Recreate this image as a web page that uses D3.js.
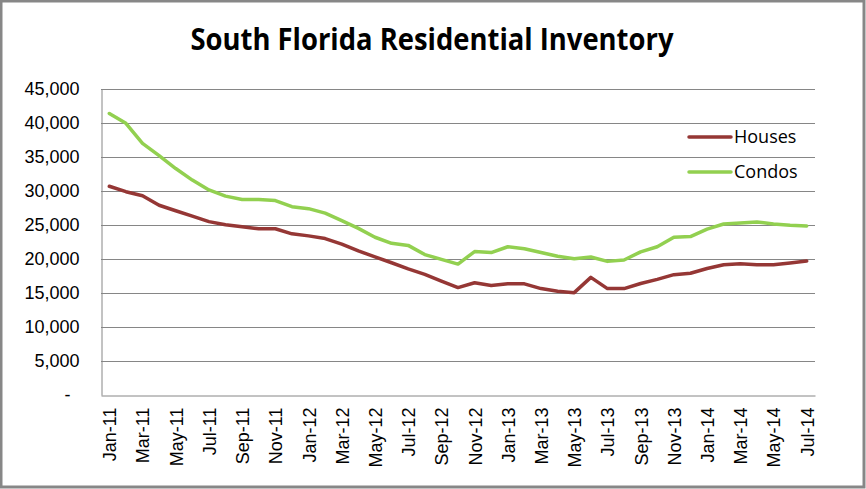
<!DOCTYPE html>
<html>
<head>
<meta charset="utf-8">
<script src="https://cdn.jsdelivr.net/npm/d3@7"></script>
<style>
  body { margin: 0; background: #fff; }
  svg { display: block; font-family: "Open Sans", "Noto Sans", sans-serif; }
</style>
</head>
<body>
<div id="chart"></div>
<script>
// monthly labels Jan-11 .. Jul-14
const months = ["Jan-11","Feb-11","Mar-11","Apr-11","May-11","Jun-11","Jul-11","Aug-11","Sep-11","Oct-11","Nov-11","Dec-11",
  "Jan-12","Feb-12","Mar-12","Apr-12","May-12","Jun-12","Jul-12","Aug-12","Sep-12","Oct-12","Nov-12","Dec-12",
  "Jan-13","Feb-13","Mar-13","Apr-13","May-13","Jun-13","Jul-13","Aug-13","Sep-13","Oct-13","Nov-13","Dec-13",
  "Jan-14","Feb-14","Mar-14","Apr-14","May-14","Jun-14","Jul-14"];

const houses = [30700, 29900, 29300, 27900, 27100, 26300, 25500, 25050, 24750, 24450, 24450, 23700,
  23400, 23000, 22200, 21200, 20300, 19450, 18550, 17750, 16750, 15800, 16500, 16100,
  16350, 16350, 15650, 15250, 15050, 17300, 15650, 15650, 16400, 17000, 17700, 17900,
  18600, 19150, 19300, 19150, 19150, 19400, 19700];

const condos = [41400, 39950, 37000, 35200, 33300, 31600, 30150, 29250, 28750, 28750, 28600, 27700,
  27400, 26750, 25650, 24500, 23200, 22300, 22000, 20650, 19950, 19250, 21100, 20950,
  21800, 21500, 20950, 20400, 20050, 20300, 19650, 19850, 21050, 21800, 23200, 23300,
  24400, 25150, 25300, 25450, 25150, 24950, 24850];

const yTicks = [0, 5000, 10000, 15000, 20000, 25000, 30000, 35000, 40000, 45000];

const seriesNames = ["Houses", "Condos"];
const seriesColors = ["#953735", "#92d050"];

const width = 866, height = 489;
const plot = { left: 101, right: 815, top: 89, bottom: 395 };

const svg = d3.select("#chart").append("svg")
    .attr("width", width)
    .attr("height", height);

// outer frame
svg.append("rect")
    .attr("x", 1).attr("y", 1)
    .attr("width", width - 3).attr("height", height - 3)
    .attr("fill", "#fff")
    .attr("stroke", "#878787")
    .attr("stroke-width", 3);

// title
svg.append("text")
    .attr("x", 432)
    .attr("y", 50)
    .attr("text-anchor", "middle")
    .attr("textLength", 483)
    .attr("lengthAdjust", "spacingAndGlyphs")
    .style("font-size", "30px")
    .style("font-weight", "bold")
    .style("fill", "#000")
    .text("South Florida Residential Inventory");

const x = d3.scalePoint()
    .domain(months)
    .range([plot.left, plot.right])
    .padding(0.5);

const y = d3.scaleLinear()
    .domain([0, 45000])
    .range([plot.bottom, plot.top]);

// gridlines
svg.append("g")
    .selectAll("line")
    .data(yTicks.filter(d => d > 0))
    .enter()
    .append("line")
    .attr("x1", plot.left)
    .attr("x2", plot.right)
    .attr("y1", d => Math.round(y(d)) + 0.5)
    .attr("y2", d => Math.round(y(d)) + 0.5)
    .attr("stroke", "#868686")
    .attr("stroke-width", 1);

// y axis
const yAxis = svg.append("g")
    .attr("transform", `translate(${plot.left + 0.5},0)`)
    .call(d3.axisLeft(y)
        .tickValues(yTicks)
        .tickSize(0)
        .tickPadding(22)
        .tickFormat(d => d === 0 ? "-" : d3.format(",")(d)));

yAxis.select(".domain").attr("stroke", "#868686");
yAxis.selectAll("text")
    .style("font-size", "18px")
    .style("fill", "#000");
yAxis.selectAll(".tick")
    .filter(d => d === 0)
    .select("text")
    .attr("x", -31);

// x axis
const xAxis = svg.append("g")
    .attr("transform", `translate(0,${plot.bottom + 0.5})`)
    .call(d3.axisBottom(x)
        .tickValues(months.filter((d, i) => i % 2 === 0))
        .tickSize(0));

xAxis.select(".domain").attr("stroke", "#868686");
xAxis.selectAll("text")
    .attr("transform", "rotate(-90)")
    .attr("text-anchor", "end")
    .attr("x", -12)
    .attr("y", 0)
    .attr("dy", "0.36em")
    .style("font-size", "18px")
    .style("fill", "#000");

// lines
const line = d3.line()
    .x((d, i) => x(months[i]))
    .y(d => y(d));

[houses, condos].forEach((vals, k) => {
    svg.append("path")
        .datum(vals)
        .attr("fill", "none")
        .attr("stroke", seriesColors[k])
        .attr("stroke-width", 3.5)
        .attr("stroke-linejoin", "round")
        .attr("stroke-linecap", "round")
        .attr("d", line);
});

// legend
const legend = svg.append("g")
    .selectAll("g")
    .data(seriesNames)
    .enter()
    .append("g")
    .attr("transform", (d, i) => `translate(689, ${137 + i * 35})`);

legend.append("line")
    .attr("x1", 0).attr("x2", 42)
    .attr("stroke", (d, i) => seriesColors[i])
    .attr("stroke-width", 3.5)
    .attr("stroke-linecap", "round");

legend.append("text")
    .attr("x", 45)
    .attr("dy", "0.36em")
    .style("font-size", "18px")
    .style("fill", "#000")
    .text(d => d);
</script>
</body>
</html>
